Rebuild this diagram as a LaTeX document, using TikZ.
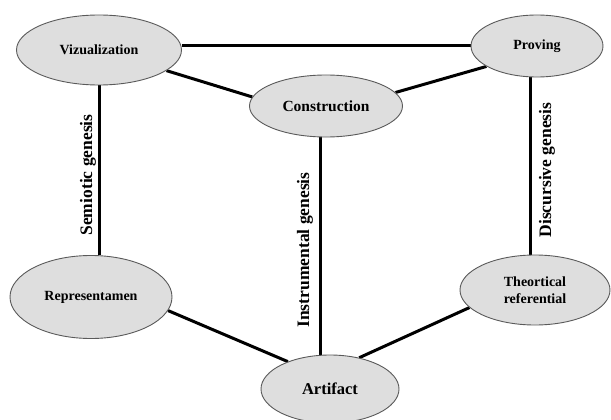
\documentclass[tikz,border=0pt]{standalone}
\usepackage{fontspec}
\setmainfont{Liberation Serif}
\usetikzlibrary{shapes.geometric,backgrounds}
\definecolor{ellfill}{RGB}{222,222,222}
\definecolor{ellline}{RGB}{90,90,90}
\tikzset{
  ell/.style={ellipse, draw=ellline, line width=0.9pt, fill=ellfill, inner sep=0pt,
              font=\bfseries\fontsize{14}{17}\selectfont, align=center},
  link/.style={line width=3pt, black},
  genlab/.style={rotate=90, font=\bfseries\fontsize{17.5}{20}\selectfont, inner sep=0pt}
}
\begin{document}
\begin{tikzpicture}[x=1pt,y=1pt]
\useasboundingbox (0,0) rectangle (611,-420);
\node[ell, minimum width=165pt, minimum height=70pt] (viz) at (99,-50) {Vizualization};
\node[ell, minimum width=132pt, minimum height=62pt] (prov) at (537,-46) {Proving};
\node[ell, minimum width=153pt, minimum height=62pt, font=\bfseries\fontsize{15.5}{18}\selectfont] (cons) at (326,-106) {Construction};
\node[ell, minimum width=162pt, minimum height=83pt] (rep) at (91,-297) {Representamen};
\node[ell, minimum width=150pt, minimum height=70pt] (theo) at (535,-290) {Theortical\\referential};
\node[ell, minimum width=138pt, minimum height=68pt, font=\bfseries\fontsize{16.5}{19}\selectfont] (art) at (330,-389) {Artifact};
\begin{pgfonlayer}{background}
\draw[link] (viz.east |- prov.west) -- (prov.west);
\draw[link] (viz.-17) -- (cons.173);
\draw[link] (cons.11) -- (prov.202);
\draw[link] (viz.south) -- (viz.south |- rep.north);
\draw[link] ([xshift=-5pt]theo.north) -- ([xshift=-5pt]theo.north |- prov.south);
\draw[link] ([xshift=-6pt]cons.south) -- ([xshift=-6pt]cons.south |- art.north);
\draw[link] (rep.-10) -- (art.147);
\draw[link] (theo.195) -- (art.47);
\end{pgfonlayer}
\node[genlab] (sem) at (88,-175) {Semiotic genesis};
\node[genlab] (ins) at (305,-250) {Instrumental genesis};
\node[genlab] (dis) at (547,-170) {Discursive genesis};
\end{tikzpicture}
\end{document}
